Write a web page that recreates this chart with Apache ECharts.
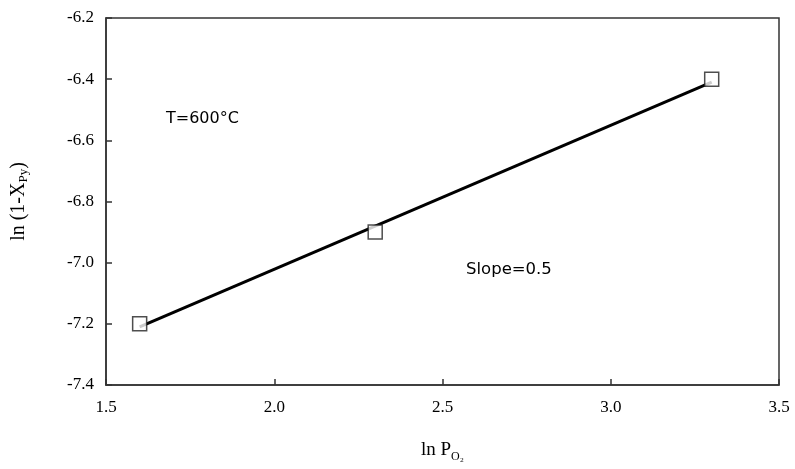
<!DOCTYPE html>
<html>
<head>
<meta charset="utf-8">
<script src="https://cdn.jsdelivr.net/npm/echarts@6/dist/echarts.min.js"></script>
<style>
  html, body { margin: 0; padding: 0; background: #fff; }
  #main { width: 795px; height: 469px; }
</style>
</head>
<body>
<div id="main"></div>
<script>
// measured points
var lnPO2 = [1.6, 2.3, 3.3];
var lnOneMinusX = [-7.2, -6.9, -6.4];
// fitted line endpoints as drawn
var fitX = [1.6, 3.3];
var fitY = [-7.21, -6.41];

var points = lnPO2.map(function (x, i) { return [x, lnOneMinusX[i]]; });
var fitLine = fitX.map(function (x, i) { return [x, fitY[i]]; });

var chart = echarts.init(document.getElementById('main'));
var serif = '"Liberation Serif", "DejaVu Serif", serif';
var sans = '"DejaVu Sans", "Noto Sans", sans-serif';
var axisColor = '#333';

var option = {
  backgroundColor: '#fff',
  animation: false,
  grid: {
    left: 106, right: 16, top: 18, bottom: 84,
    outerBoundsMode: 'none',
    containLabel: false,
    show: true, borderColor: axisColor, borderWidth: 1.5
  },
  xAxis: {
    type: 'value',
    min: 1.5, max: 3.5, interval: 0.5,
    name: 'ln P{sub|O₂}',
    nameLocation: 'middle',
    nameGap: 52,
    nameTextStyle: {
      fontFamily: serif, fontSize: 19, color: '#000',
      rich: { sub: { fontFamily: serif, fontSize: 12, color: '#000', padding: [14, 0, 0, 0] } }
    },
    axisLine: { lineStyle: { color: axisColor, width: 1.5 } },
    axisTick: { inside: true, length: 6, lineStyle: { color: axisColor, width: 1.5 } },
    axisLabel: {
      margin: 14, fontFamily: serif, fontSize: 17, color: '#000',
      formatter: function (v) { return v.toFixed(1); }
    },
    splitLine: { show: false }
  },
  yAxis: {
    type: 'value',
    min: -7.4, max: -6.2, interval: 0.2,
    name: 'ln (1-X{sub|Py})',
    nameLocation: 'middle',
    nameGap: 76,
    nameTextStyle: {
      fontFamily: serif, fontSize: 20, color: '#000',
      rich: { sub: { fontFamily: serif, fontSize: 13, color: '#000', padding: [10, 0, 0, 0] } }
    },
    axisLine: { show: true, lineStyle: { color: axisColor, width: 1.5 } },
    axisTick: { show: true, inside: true, length: 6, lineStyle: { color: axisColor, width: 1.5 } },
    axisLabel: {
      margin: 12, fontFamily: serif, fontSize: 17, color: '#000',
      formatter: function (v) { return v.toFixed(1); }
    },
    splitLine: { show: false }
  },
  graphic: [
    { type: 'text', left: 166, top: 111,
      style: { text: 'T=600°C', font: '16px ' + sans, fill: '#000' } },
    { type: 'text', left: 466, top: 261,
      style: { text: 'Slope=0.5', font: '16.5px ' + sans, fill: '#000' } }
  ],
  series: [
    {
      type: 'line',
      data: fitLine,
      symbol: 'none',
      lineStyle: { color: '#000', width: 3 },
      z: 2
    },
    {
      type: 'scatter',
      data: points,
      symbol: 'rect',
      symbolSize: 14,
      itemStyle: { color: '#fff', borderColor: '#222', borderWidth: 1.5 },
      z: 3
    }
  ]
};

chart.setOption(option);
</script>
</body>
</html>
